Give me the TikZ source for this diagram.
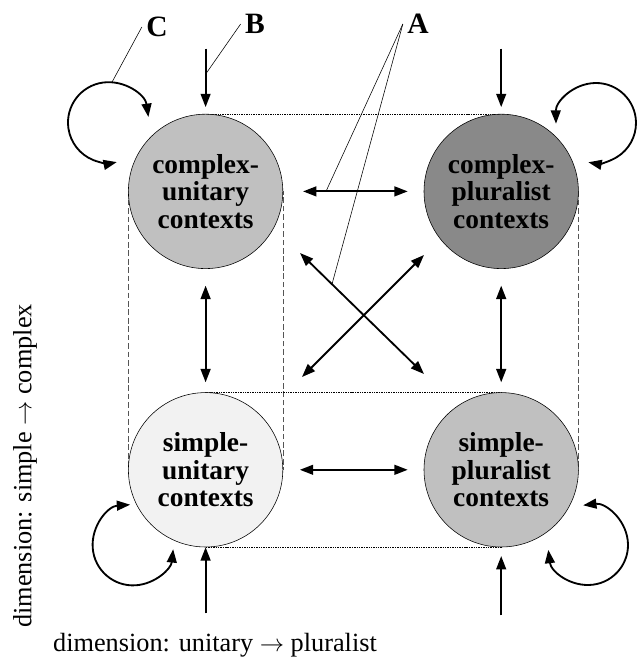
\documentclass[tikz,border=0pt]{standalone}
\usepackage{fontspec}
\setmainfont{Liberation Serif}
\usetikzlibrary{arrows.meta,positioning,backgrounds}
\definecolor{lightgrey}{HTML}{F2F2F2}
\definecolor{silver}{HTML}{C0C0C0}
\definecolor{darkgrey}{HTML}{898989}
\definecolor{framegrey}{HTML}{555555}
\tikzset{
  ctx/.style={circle,draw,thin,minimum size=3.86cm,inner sep=0pt,align=center,
    font=\fontsize{19.5}{19.5}\selectfont\bfseries},
  arr/.style={-{Triangle[length=9.5pt,width=7pt]},line width=1.3pt},
  dbl/.style={{Triangle[length=9.5pt,width=7pt]}-{Triangle[length=9.5pt,width=7pt]},line width=1.3pt},
  lead/.style={line width=0.4pt},
  lab/.style={font=\fontsize{21}{22}\selectfont\bfseries,inner sep=3pt},
  note/.style={font=\fontsize{18.7}{20}\selectfont},
  side/.style={dash pattern=on 4pt off 2pt,line width=0.6pt,draw=framegrey},
  row/.style={dash pattern=on 1pt off 0.7pt,line width=0.5pt}
}

\begin{document}
\begin{tikzpicture}
  \useasboundingbox (0,0) rectangle (15.925,16.675);

  % the four contexts
  \node[ctx,fill=silver] (cu) at (5.14,11.89) {complex-\\unitary\\contexts};
  \node[ctx,fill=darkgrey] (cp) at (12.53,11.89) {complex-\\pluralist\\contexts};
  \node[ctx,fill=lightgrey] (su) at (5.14,4.93) {simple-\\unitary\\contexts};
  \node[ctx,fill=silver] (sp) at (12.53,4.93) {simple-\\pluralist\\contexts};

  \begin{scope}[on background layer]
    \draw[side] (cu.west) rectangle (su.east);
    \draw[side] (cp.east) -- (sp.east);
    \draw[row] (cu.north) -- (cp.north);
    \draw[row] (su.north) rectangle (sp.south);
  \end{scope}

  % inputs
  \coordinate[above=1.63cm of cu.north] (cuin);
  \coordinate[above=1.63cm of cp.north] (cpin);
  \coordinate[below=1.65cm of su.south] (suin);
  \coordinate[below=1.7cm of sp.south] (spin);
  \draw[arr,shorten >=0.17cm] (cuin) -- (cu);
  \draw[arr,shorten >=0.17cm] (cpin) -- (cp);
  \draw[arr] (suin) -- (su);
  \draw[arr,shorten >=0.22cm] (spin) -- (sp);

  % exchanges
  \draw[dbl,shorten <=0.5cm,shorten >=0.4cm] (cu) -- (cp);
  \draw[dbl,shorten <=0.42cm,shorten >=0.4cm] (su) -- (sp);
  \draw[dbl,shorten <=0.42cm,shorten >=0.25cm] (cu) -- (su);
  \draw[dbl,shorten <=0.42cm,shorten >=0.25cm] (cp) -- (sp);
  \coordinate (xnw) at (7.5,10.35);
  \coordinate (xse) at (10.6,7.325);
  \coordinate (xne) at (10.6,10.3);
  \coordinate (xsw) at (7.55,7.25);
  \draw[dbl] (xnw) -- (xse);
  \draw[dbl] (xsw) -- (xne);

  % self loops
  \coordinate (cuself) at (2.71,13.61);
  \coordinate (cpself) at (14.9,13.6);
  \coordinate (suself) at (3.325,3.05);
  \coordinate (spself) at (14.7,3.05);
  \draw[dbl] (cuself) ++(8:1.01) arc[start angle=8,end angle=282,radius=1.01];
  \draw[dbl] (cpself) ++(181:1.0) arc[start angle=181,end angle=-101,radius=1.0];
  \draw[dbl] (suself) ++(94:1.01) arc[start angle=94,end angle=354,radius=1.01];
  \draw[dbl] (spself) ++(97:1.0) arc[start angle=97,end angle=-173,radius=1.0];

  % labels
  \node[lab] (labC) at (3.925,16.0) {C};
  \node[lab] (labB) at (6.375,16.075) {B};
  \node[lab] (labA) at (10.45,16.075) {A};
  \coordinate (cmark) at (2.8,14.62);
  \coordinate (bmark) at (5.14,14.82);
  \coordinate (amark) at (8.15,11.89);
  \coordinate (xmark) at (8.3,9.57);
  \draw[lead] (labC.west) -- (cmark);
  \draw[lead] (labB.west) -- (bmark);
  \draw[lead] (labA.west) -- (amark);
  \draw[lead] (labA.west) -- (xmark);

  \node[note] (dimx) at (5.375,0.55) {dimension: unitary $\rightarrow$ pluralist};
  \node[note,rotate=90] (dimy) at (0.625,5.025) {dimension: simple $\rightarrow$ complex};
\end{tikzpicture}
\end{document}
